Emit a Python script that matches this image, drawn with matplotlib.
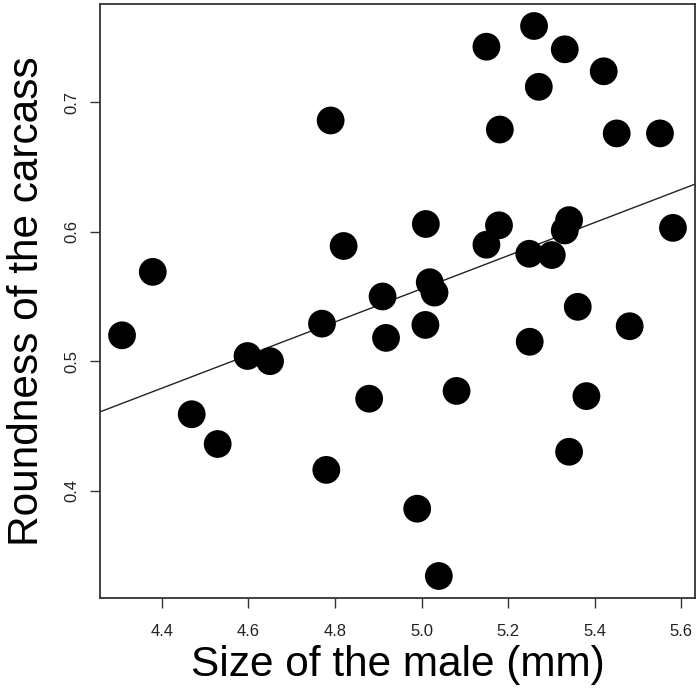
import numpy as np
import matplotlib
matplotlib.use("Agg")
import matplotlib.pyplot as plt

plt.rcParams['font.family'] = ['Liberation Sans', 'DejaVu Sans']

male_size = [4.308, 4.379, 4.469, 4.529, 4.598, 4.650, 4.770, 4.780, 4.790, 4.820,
             4.879, 4.910, 4.918, 4.990, 5.010, 5.009, 5.019, 5.030, 5.040, 5.081,
             5.150, 5.150, 5.181, 5.179, 5.249, 5.250, 5.260, 5.271, 5.301, 5.331,
             5.331, 5.341, 5.341, 5.361, 5.381, 5.421, 5.451, 5.481, 5.551, 5.581]
roundness = [0.520, 0.569, 0.459, 0.436, 0.504, 0.500, 0.529, 0.416, 0.686, 0.589,
             0.471, 0.550, 0.518, 0.386, 0.606, 0.528, 0.561, 0.553, 0.334, 0.477,
             0.743, 0.590, 0.679, 0.605, 0.583, 0.515, 0.759, 0.712, 0.582, 0.741,
             0.601, 0.609, 0.430, 0.542, 0.473, 0.724, 0.676, 0.527, 0.676, 0.603]
x_ticks = [4.4, 4.6, 4.8, 5.0, 5.2, 5.4, 5.6]
y_ticks = [0.4, 0.5, 0.6, 0.7]

x = np.array(male_size)
y = np.array(roundness)

fig = plt.figure(figsize=(7.0, 6.9), dpi=100)
ax = fig.add_axes([100/700, 92/690, 595/700, 594/690])

ax.scatter(x, y, s=400, c='black', edgecolors='none', zorder=3)

slope, intercept = np.polyfit(x, y, 1)
xr = (x.min() - 0.04*(x.max()-x.min()), x.max() + 0.04*(x.max()-x.min()))
yr = (y.min() - 0.04*(y.max()-y.min()), y.max() + 0.04*(y.max()-y.min()))
xl = np.array(xr)
ax.plot(xl, intercept + slope*xl, color='#222222', lw=1.0, zorder=2)

ax.set_xlim(*xr)
ax.set_ylim(*yr)
ax.set_xticks(x_ticks)
ax.set_xticklabels([f"{t:.1f}" for t in x_ticks])
ax.set_yticks(y_ticks)
ax.set_yticklabels([f"{t:.1f}" for t in y_ticks], rotation=90, va='center')
ax.tick_params(axis='both', labelsize=12, length=7, width=1, color='#333333',
               labelcolor='#222222')
ax.tick_params(axis='x', pad=12)
ax.tick_params(axis='y', pad=8)
for sp in ax.spines.values():
    sp.set_color('#333333')
    sp.set_linewidth(1.3)

ax.set_xlabel("Size of the male (mm)", fontsize=30.5, labelpad=4)
ax.set_ylabel("Roundness of the carcass", fontsize=30.5, labelpad=12)

fig.savefig("out.png", dpi=100)
